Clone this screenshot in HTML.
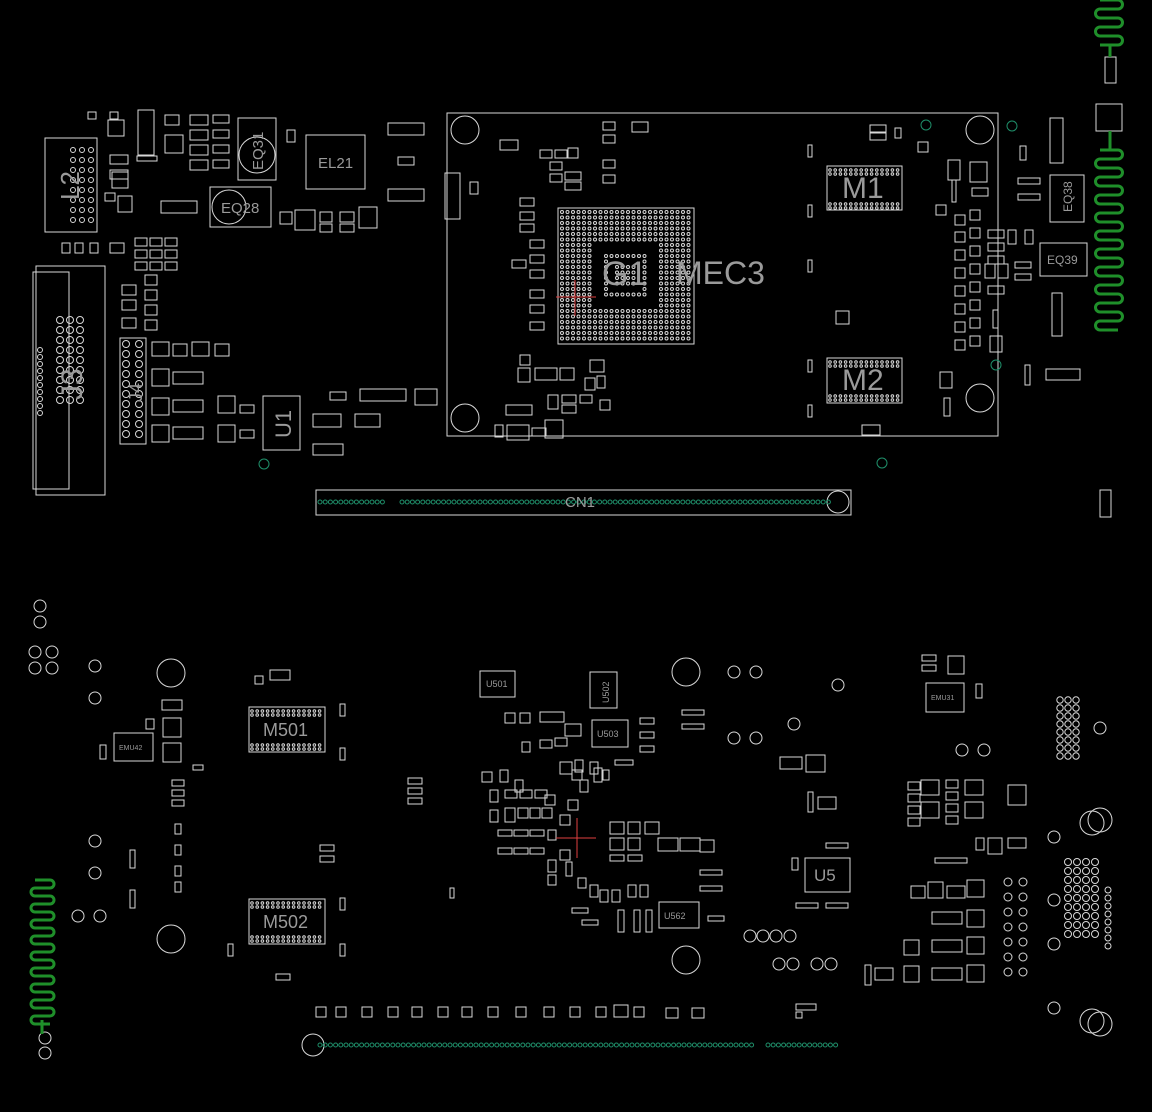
<!DOCTYPE html>
<html><head><meta charset="utf-8"><style>
html,body{margin:0;padding:0;background:#000;}
svg{display:block;}
text{font-family:"Liberation Sans",sans-serif;fill:#9a9a9a;}
</style></head><body>
<svg id="s" width="1152" height="1112" viewBox="0 0 1152 1112" xmlns="http://www.w3.org/2000/svg">
<rect width="1152" height="1112" fill="#000"/>
<g id="g" fill="none" stroke="#d8d8d8" stroke-width="1">
<!-- main board outlines -->
<rect x="447" y="113" width="551" height="323"/>
<rect x="558" y="208" width="136" height="136"/>
<rect x="827" y="166" width="75" height="44"/>
<rect x="827" y="358" width="75" height="45"/>
<circle cx="465" cy="130" r="14"/><circle cx="980" cy="130" r="14"/>
<circle cx="465" cy="418" r="14"/><circle cx="980" cy="398" r="14"/>
<rect x="45" y="138" width="52" height="94"/>
<rect x="36" y="266" width="69" height="229"/>
<rect x="33" y="272" width="36" height="217"/>
<rect x="120" y="338" width="26" height="106"/>
<rect x="263" y="396" width="37" height="54"/>
<rect x="306" y="135" width="59" height="54"/>
<rect x="210" y="187" width="61" height="40"/>
<rect x="238" y="118" width="38" height="62"/>
<circle cx="257" cy="155" r="18"/>
<circle cx="229" cy="207" r="17"/>
<rect x="316" y="490" width="535" height="25"/>
<circle cx="838" cy="502" r="11"/>
<rect x="1040" y="243" width="47" height="33"/>
<rect x="1050" y="175" width="34" height="47"/>
<rect x="1050" y="118" width="13" height="45"/>
<rect x="1096" y="104" width="26" height="27"/>
<rect x="1052" y="293" width="10" height="43"/>
<rect x="1046" y="369" width="34" height="11"/>
<rect x="1100" y="490" width="11" height="27"/>
<rect x="1105" y="57" width="11" height="26"/>
<rect x="445" y="173" width="15" height="46"/>
<rect x="388" y="123" width="36" height="12"/>
<rect x="388" y="189" width="36" height="12"/>
<rect x="161" y="201" width="36" height="12"/>
<rect x="360" y="389" width="46" height="12"/>
<rect x="415" y="389" width="22" height="16"/>
<rect x="313" y="414" width="28" height="13"/>
<rect x="355" y="414" width="25" height="13"/>
<rect x="313" y="444" width="30" height="11"/>
<rect x="295" y="210" width="20" height="20"/>
<rect x="359" y="207" width="18" height="21"/>
<rect x="138" y="110" width="16" height="45"/>
<rect x="507" y="425" width="22" height="15"/>
<rect x="506" y="405" width="26" height="10"/>
<rect x="836" y="311" width="13" height="13"/>
<rect x="970" y="162" width="17" height="20"/>
<!-- bottom -->
<rect x="249" y="707" width="76" height="45"/>
<rect x="249" y="899" width="76" height="45"/>
<rect x="805" y="858" width="45" height="34"/>
<rect x="480" y="671" width="35" height="26"/>
<rect x="590" y="672" width="27" height="36"/>
<rect x="592" y="720" width="36" height="27"/>
<rect x="659" y="902" width="40" height="26"/>
<rect x="114" y="733" width="39" height="28"/>
<rect x="926" y="683" width="38" height="29"/>
<rect x="163" y="718" width="18" height="19"/>
<rect x="163" y="743" width="18" height="19"/>
<rect x="806" y="755" width="19" height="17"/>
<rect x="1008" y="785" width="18" height="20"/>
<rect x="948" y="656" width="16" height="18"/>
<rect x="965" y="780" width="18" height="15"/>
<rect x="965" y="802" width="18" height="16"/>
<rect x="921" y="780" width="18" height="15"/>
<rect x="921" y="802" width="18" height="16"/>
<rect x="988" y="838" width="14" height="16"/>
<rect x="928" y="882" width="15" height="16"/>
<rect x="967" y="880" width="17" height="17"/>
<rect x="967" y="910" width="17" height="17"/>
<rect x="967" y="937" width="17" height="17"/>
<rect x="967" y="965" width="17" height="17"/>
<rect x="904" y="940" width="15" height="15"/>
<rect x="904" y="966" width="15" height="16"/>
<rect x="658" y="838" width="20" height="13"/>
<rect x="680" y="838" width="20" height="13"/>
<circle cx="171" cy="673" r="14"/><circle cx="686" cy="672" r="14"/>
<circle cx="171" cy="939" r="14"/><circle cx="686" cy="960" r="14"/>
<circle cx="313" cy="1045" r="11"/>
</g>
<g id="green" fill="none" stroke="#1f8f2a" stroke-width="3"></g>
<g id="gd" fill="none" stroke="#1f8f6a" stroke-width="1"></g>
<g stroke="#e04040" stroke-width="1">
<line x1="556" y1="297" x2="596" y2="297"/><line x1="575" y1="280" x2="575" y2="316"/>
<line x1="556" y1="838" x2="596" y2="838"/><line x1="577" y1="818" x2="577" y2="858"/>
</g>
<text x="602" y="285" font-size="34">G1</text>
<text x="676" y="284" font-size="32">MEC3</text>
<text x="842" y="198" font-size="30">M1</text>
<text x="842" y="390" font-size="30">M2</text>
<text x="318" y="168" font-size="15">EL21</text>
<text x="221" y="213" font-size="15">EQ28</text>
<text x="1047" y="264" font-size="12">EQ39</text>
<text x="565" y="507" font-size="15">CN1</text>
<text x="263" y="736" font-size="18">M501</text>
<text x="263" y="928" font-size="18">M502</text>
<text x="814" y="881" font-size="17">U5</text>
<text x="486" y="687" font-size="9">U501</text>
<text x="597" y="737" font-size="9">U503</text>
<text x="664" y="919" font-size="9">U562</text>
<text x="119" y="750" font-size="7">EMU42</text>
<text x="931" y="700" font-size="7">EMU31</text>
<text transform="translate(79,200) rotate(-90)" font-size="26">L2</text>
<text transform="translate(82,400) rotate(-90)" font-size="30">J3</text>
<text transform="translate(142,402) rotate(-90)" font-size="18">J4</text>
<text transform="translate(291,438) rotate(-90)" font-size="22">U1</text>
<text transform="translate(263,170) rotate(-90)" font-size="15">EQ31</text>
<text transform="translate(1072,212) rotate(-90)" font-size="12">EQ38</text>
<text transform="translate(609,703) rotate(-90)" font-size="9">U502</text>
</svg>
<script>
var NS="http://www.w3.org/2000/svg",g=document.getElementById('g'),gr=document.getElementById('green'),gd=document.getElementById('gd');
function el(p,t,a){var e=document.createElementNS(NS,t);for(var k in a)e.setAttribute(k,a[k]);p.appendChild(e);return e;}
function grid(x0,y0,nx,ny,dx,dy,r,par){for(var i=0;i<nx;i++)for(var j=0;j<ny;j++)el(par||g,'circle',{cx:x0+i*dx,cy:y0+j*dy,r:r});}
// BGA
for(var i=0;i<24;i++)for(var j=0;j<24;j++){var inner=(i>=6&&i<18&&j>=6&&j<18);var ring=(i>=8&&i<16&&j>=8&&j<16);var core=(i>=10&&i<14&&j>=10&&j<14);if(inner&&!ring)continue;if(ring&&!core&&!(i==8||i==15||j==8||j==15))continue;el(g,'circle',{cx:562+i*5.5,cy:212+j*5.5,r:1.5});}
// M chips dots
[[830,170],[830,362],[252,711],[252,903]].forEach(function(p){grid(p[0],p[1],14,2,5.2,4,1.3);grid(p[0],p[1]+34,14,2,5.2,4,1.3);});
// J3 holes
grid(60,320,3,9,10,10,3.5);grid(40,350,1,10,0,7,2.5);
// L2
grid(73,150,3,8,9,10,2.5);
// J4
grid(126,344,2,10,13,10,3.5);
// connector rows
for(var x=320;x<384;x+=5.2)el(gd,'circle',{cx:x,cy:502,r:2});
for(var x=402;x<830;x+=5.2)el(gd,'circle',{cx:x,cy:502,r:2});
for(var x=320;x<752;x+=5.2)el(gd,'circle',{cx:x,cy:1045,r:2});
for(var x=768;x<838;x+=5.2)el(gd,'circle',{cx:x,cy:1045,r:2});
// serpentines
function serp(x1,x2,y0,y1,step){var d='M'+x1+' '+y0,left=true;for(var y=y0;y<y1;y+=step){var xa=left?x1:x2,xb=left?x2:x1;d+=' L'+xb+' '+y+' A'+step/2+' '+step/2+' 0 0 '+(left?1:0)+' '+xb+' '+(y+step)+' L'+xa+' '+(y+step);left=!left;}el(gr,'path',{d:d});}
serp(1100,1118,0,45,9);serp(1100,1118,150,330,9);serp(35,50,880,1020,8);
el(gr,'path',{d:'M1110 45 L1110 57 M1110 131 L1110 150 M42 1020 L42 1034'});
// small random components
var comps=[[88,112,8,7],[110,112,8,7],[165,115,14,10],[190,115,18,10],[190,130,18,10],[190,145,18,10],[190,160,18,10],[213,115,16,8],[213,130,16,8],[213,145,16,8],[213,160,16,8],[108,120,16,16],[165,135,18,18],[137,156,20,5],[110,155,18,9],[110,170,18,9],[112,172,16,16],[118,196,14,16],[105,193,10,8],[62,243,8,10],[75,243,8,10],[90,243,8,10],[110,243,14,10],[135,238,12,8],[150,238,12,8],[165,238,12,8],[135,250,12,8],[150,250,12,8],[165,250,12,8],[135,262,12,8],[150,262,12,8],[165,262,12,8],[145,275,12,10],[145,290,12,10],[145,305,12,10],[145,320,12,10],[122,285,14,10],[122,300,14,10],[122,318,14,10],[152,342,17,14],[173,344,14,12],[192,342,17,14],[215,344,14,12],[152,369,17,17],[173,372,30,12],[152,398,17,17],[173,400,30,12],[152,425,17,17],[173,427,30,12],[218,396,17,17],[218,425,17,17],[240,405,14,8],[240,430,14,8],[280,212,12,12],[320,212,12,10],[340,212,14,10],[320,224,12,8],[340,224,14,8],[287,130,8,12],[330,392,16,8],[398,157,16,8],[500,140,18,10],[540,150,12,8],[555,150,12,8],[568,148,10,10],[550,162,12,8],[550,174,12,8],[565,172,16,8],[565,182,16,8],[520,198,14,8],[520,212,14,8],[520,224,14,8],[512,260,14,8],[530,240,14,8],[530,255,14,8],[530,270,14,8],[530,290,14,8],[530,305,14,8],[530,322,14,8],[520,355,10,10],[518,368,12,14],[535,368,22,12],[560,368,14,12],[590,360,14,12],[585,378,10,12],[597,376,8,12],[548,395,10,14],[562,395,14,8],[562,405,14,8],[580,395,12,8],[600,400,10,10],[495,425,8,12],[532,428,14,8],[545,420,18,18],[603,122,12,8],[603,135,12,8],[603,160,12,8],[603,175,12,8],[632,122,16,10],[470,182,8,12],[808,145,4,12],[808,205,4,12],[808,260,4,12],[808,360,4,12],[808,405,4,12],[862,425,18,10],[870,125,16,8],[870,132,16,8],[895,128,6,10],[918,142,10,10],[936,205,10,10],[948,160,12,20],[952,180,4,22],[955,215,10,10],[955,232,10,10],[955,250,10,10],[955,268,10,10],[955,286,10,10],[955,304,10,10],[955,322,10,10],[955,340,10,10],[970,210,10,10],[970,228,10,10],[970,246,10,10],[970,264,10,10],[970,282,10,10],[970,300,10,10],[970,318,10,10],[970,336,10,10],[988,230,16,8],[988,243,16,8],[988,256,16,8],[985,264,10,14],[998,264,10,14],[988,286,16,8],[993,310,5,18],[990,336,12,16],[940,372,12,16],[944,398,6,18],[1020,146,6,14],[1018,178,22,6],[1018,194,22,6],[1008,230,8,14],[1025,230,8,14],[1015,262,16,6],[1015,274,16,6],[1025,365,5,20],[972,188,16,8],[918,440,0,0],
[270,670,20,10],[255,676,8,8],[162,700,20,10],[146,719,8,10],[100,745,6,14],[340,704,5,12],[340,748,5,12],[340,898,5,12],[340,944,5,12],[228,944,5,12],[193,765,10,5],[172,780,12,6],[172,790,12,6],[172,800,12,6],[175,824,6,10],[175,845,6,10],[175,866,6,10],[175,882,6,10],[130,850,5,18],[130,890,5,18],[320,845,14,6],[320,856,14,6],[408,778,14,6],[408,788,14,6],[408,798,14,6],[276,974,14,6],[450,888,4,10],[505,713,10,10],[520,713,10,10],[540,712,24,10],[565,724,16,12],[522,742,8,10],[540,740,12,8],[555,738,12,8],[500,770,8,12],[515,780,8,12],[482,772,10,10],[490,790,8,12],[505,790,12,8],[520,790,12,8],[535,790,12,8],[545,795,10,10],[560,762,12,12],[575,760,8,12],[590,762,8,12],[572,770,10,10],[580,780,8,12],[594,768,8,14],[603,770,6,10],[615,760,18,5],[640,718,14,6],[640,732,14,6],[640,746,14,6],[682,710,22,5],[682,724,22,5],[490,810,8,12],[505,808,10,14],[518,808,10,10],[530,808,10,10],[542,808,10,10],[568,800,10,10],[560,815,10,10],[498,830,14,6],[514,830,14,6],[530,830,14,6],[548,830,8,10],[560,850,10,10],[498,848,14,6],[514,848,14,6],[530,848,14,6],[548,860,8,12],[548,875,8,10],[566,862,6,14],[578,878,8,10],[590,885,8,12],[600,890,8,12],[612,890,8,12],[628,885,8,12],[640,885,8,12],[610,822,14,12],[628,822,12,12],[645,822,14,12],[610,838,14,12],[628,838,12,12],[610,855,14,6],[628,855,14,6],[700,840,14,12],[700,870,22,5],[700,886,22,5],[708,916,16,5],[618,910,6,22],[634,910,6,22],[646,910,6,22],[572,908,16,5],[582,920,16,5],[780,757,22,12],[808,792,5,20],[818,797,18,12],[826,843,22,5],[796,903,22,5],[826,903,22,5],[792,858,6,12],[796,1004,20,6],[796,1012,6,6],[865,965,6,20],[875,968,18,12],[911,886,14,12],[947,886,18,12],[932,912,30,12],[932,940,30,12],[932,968,30,12],[935,858,32,5],[976,684,6,14],[922,655,14,6],[922,665,14,6],[908,782,12,8],[908,794,12,8],[908,806,12,8],[908,818,12,8],[946,780,12,8],[946,792,12,8],[946,804,12,8],[946,816,12,8],[976,838,8,12],[1008,838,18,10],[316,1007,10,10],[336,1007,10,10],[362,1007,10,10],[388,1007,10,10],[412,1007,10,10],[438,1007,10,10],[462,1007,10,10],[488,1007,10,10],[516,1007,10,10],[544,1007,10,10],[570,1007,10,10],[596,1007,10,10],[614,1005,14,12],[634,1007,10,10],[666,1008,12,10],[692,1008,12,10]];
comps.forEach(function(c){if(c[2])el(g,'rect',{x:c[0],y:c[1],width:c[2],height:c[3]});});
// bottom circles
[[40,606],[40,622],[35,652],[52,652],[35,668],[52,668],[95,666],[95,698],[95,841],[95,873],[78,916],[100,916],[734,672],[756,672],[734,738],[756,738],[794,724],[838,685],[962,750],[984,750],[750,936],[763,936],[776,936],[790,936],[779,964],[793,964],[817,964],[831,964],[45,1038],[45,1053],[1054,837],[1054,900],[1054,944],[1054,1008],[1100,728]].forEach(function(p){el(g,'circle',{cx:p[0],cy:p[1],r:6});});
[[1092,823],[1100,820],[1092,1021],[1100,1024]].forEach(function(p){el(g,'circle',{cx:p[0],cy:p[1],r:12});});
grid(1060,700,3,8,8,8,3.2);grid(1008,882,2,7,15,15,4);grid(1068,862,4,9,9,9,3.5);grid(1108,890,1,8,7,8,3);
[[926,125],[1012,126],[264,464],[882,463],[996,365]].forEach(function(p){el(gd,'circle',{cx:p[0],cy:p[1],r:5});});
</script>
</body></html>
